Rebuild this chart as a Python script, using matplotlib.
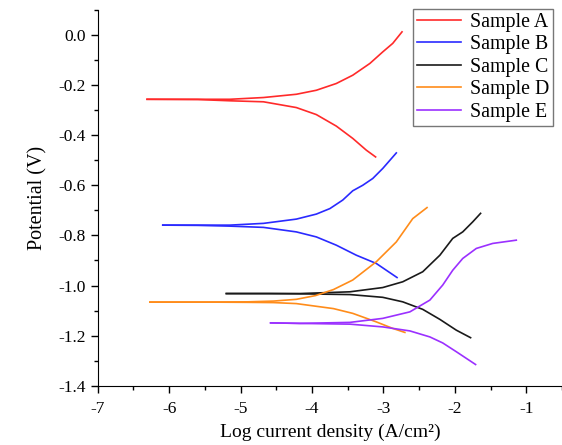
import matplotlib.pyplot as plt

plt.rcParams['font.family'] = ['Liberation Serif', 'DejaVu Serif']
plt.rcParams['axes.unicode_minus'] = False

samples = ['Sample A', 'Sample B', 'Sample C', 'Sample D', 'Sample E']
colors = ['#ff2a2a', '#2a2aff', '#1a1a1a', '#ff8c1a', '#9b30ff']

# anodic branches (log i, E)
a_x = [
    [-6.31, -5.6, -5.15, -4.68, -4.22, -3.94, -3.66, -3.43, -3.19, -3.01, -2.87, -2.74],
    [-6.09, -5.6, -5.15, -4.68, -4.22, -3.94, -3.75, -3.57, -3.43, -3.29, -3.15, -3.01, -2.82],
    [-5.20, -4.6, -4.17, -3.47, -3.01, -2.73, -2.45, -2.21, -2.03, -1.89, -1.75, -1.64],
    [-6.27, -5.5, -4.9, -4.54, -4.22, -3.95, -3.70, -3.43, -3.10, -2.82, -2.59, -2.39],
    [-4.58, -4.17, -3.47, -3.01, -2.63, -2.35, -2.17, -2.03, -1.89, -1.70, -1.47, -1.14],
]
a_y = [
    [-0.257, -0.257, -0.257, -0.250, -0.237, -0.221, -0.194, -0.161, -0.114, -0.068, -0.034, 0.012],
    [-0.759, -0.759, -0.759, -0.752, -0.735, -0.715, -0.693, -0.659, -0.622, -0.600, -0.573, -0.533, -0.471],
    [-1.032, -1.032, -1.032, -1.025, -1.008, -0.985, -0.945, -0.879, -0.812, -0.786, -0.746, -0.712],
    [-1.066, -1.066, -1.065, -1.062, -1.055, -1.040, -1.016, -0.978, -0.905, -0.826, -0.733, -0.689],
    [-1.149, -1.151, -1.147, -1.131, -1.105, -1.058, -0.998, -0.939, -0.892, -0.852, -0.832, -0.819],
]

# cathodic branches (log i, E)
c_x = [
    [-6.31, -5.6, -5.15, -4.68, -4.22, -3.94, -3.66, -3.43, -3.24, -3.11],
    [-6.09, -5.6, -5.15, -4.68, -4.22, -3.94, -3.66, -3.38, -3.10, -2.81],
    [-5.20, -4.6, -4.17, -3.47, -3.01, -2.73, -2.45, -2.21, -1.98, -1.78],
    [-6.27, -5.5, -4.9, -4.54, -4.22, -3.70, -3.43, -3.10, -2.87, -2.70],
    [-4.58, -4.17, -3.47, -3.01, -2.63, -2.35, -2.17, -1.98, -1.71],
]
c_y = [
    [-0.257, -0.258, -0.263, -0.267, -0.290, -0.318, -0.364, -0.413, -0.460, -0.487],
    [-0.759, -0.760, -0.763, -0.768, -0.786, -0.806, -0.839, -0.879, -0.912, -0.968],
    [-1.032, -1.032, -1.033, -1.036, -1.047, -1.065, -1.095, -1.135, -1.178, -1.208],
    [-1.066, -1.066, -1.067, -1.068, -1.072, -1.092, -1.111, -1.145, -1.171, -1.187],
    [-1.149, -1.151, -1.154, -1.165, -1.181, -1.205, -1.229, -1.264, -1.315],
]

fig = plt.figure(figsize=(5.62, 4.45), dpi=100)
ax = fig.add_axes([0.174, 0.133, 0.826, 0.845])

for i, name in enumerate(samples):
    ax.plot(a_x[i], a_y[i], color=colors[i], lw=1.2, label=name)
    ax.plot(c_x[i], c_y[i], color=colors[i], lw=1.2)

ax.set_xlim(-7, -0.5)
ax.set_ylim(-1.4, 0.1)
ax.set_xticks([-7, -6, -5, -4, -3, -2, -1])
ax.set_xticks([-6.5, -5.5, -4.5, -3.5, -2.5, -1.5, -0.5], minor=True)
ax.set_yticks([-1.4, -1.2, -1.0, -0.8, -0.6, -0.4, -0.2, 0.0])
ax.set_yticks([-1.3, -1.1, -0.9, -0.7, -0.5, -0.3, -0.1, 0.1], minor=True)
ax.set_yticklabels([f'{v:.1f}' for v in [-1.4, -1.2, -1.0, -0.8, -0.6, -0.4, -0.2, 0.0]])

ax.spines['top'].set_visible(False)
ax.spines['right'].set_visible(False)
ax.tick_params(which='major', direction='out', length=5, width=1, labelsize=12.5)
ax.tick_params(axis='x', which='major', pad=6)
ax.tick_params(which='minor', direction='out', length=3, width=1)

ax.set_xlabel('Log current density (A/cm²)', fontsize=14, labelpad=5)
ax.set_ylabel('Potential (V)', fontsize=14.5, labelpad=8)

leg = ax.legend(loc='upper right', bbox_to_anchor=(0.981, 1.003), fontsize=14.3,
                frameon=True, fancybox=False, edgecolor='#555555',
                handlelength=2.2, borderpad=0.2, labelspacing=0.18,
                handletextpad=0.45, borderaxespad=0.0)
leg.get_frame().set_linewidth(1.0)

plt.savefig('out.png', dpi=100)
